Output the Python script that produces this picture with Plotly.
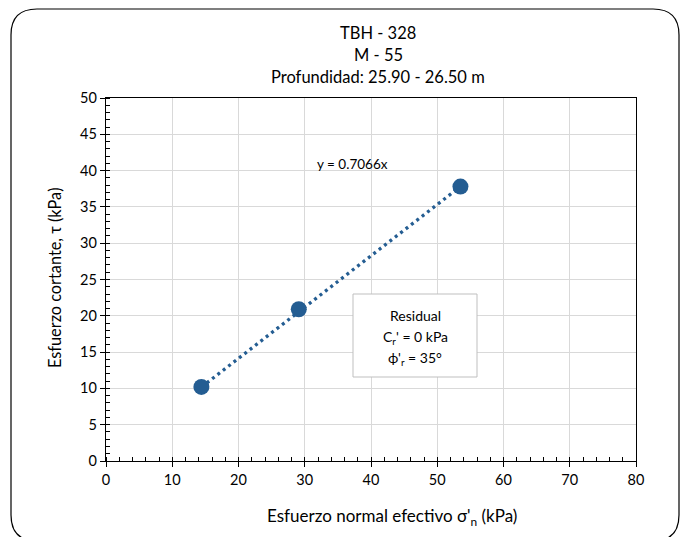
import plotly.graph_objects as go

# ─── Datos ───────────────────────────────────────────────
sigma_n = [14.4, 29.1, 53.5]      # esfuerzo normal efectivo (kPa)
tau = [10.2, 20.9, 37.8]          # esfuerzo cortante (kPa)
pendiente = 0.7066                # y = 0.7066x
titulo = ["TBH - 328", "M - 55", "Profundidad: 25.90 - 26.50 m"]
x_ticks = [0, 10, 20, 30, 40, 50, 60, 70, 80]
y_ticks = [0, 5, 10, 15, 20, 25, 30, 35, 40, 45, 50]

AZUL = '#245D92'
FUENTE = 'Lato'
W, H = 681, 537
L, R, T, B = 106, 45, 98, 76


def px(x):   # pixel -> paper x
    return (x - L) / (W - L - R)


def py(y):   # pixel -> paper y
    return (H - B - y) / (H - T - B)


def texto(t, x, y, size, **kw):
    fig.add_annotation(text=t, xref='paper', yref='paper', x=px(x), y=py(y),
                       xanchor='center', yanchor='middle', showarrow=False,
                       font=dict(size=size, family=FUENTE, color='black'), **kw)


fig = go.Figure()

# línea de tendencia punteada
tx = [min(sigma_n), max(sigma_n)]
fig.add_trace(go.Scatter(
    x=tx, y=[pendiente * v for v in tx], mode='lines',
    line=dict(color=AZUL, width=3.3, dash='3px,3.8px'), hoverinfo='skip'
))
fig.add_trace(go.Scatter(
    x=sigma_n, y=tau, mode='markers',
    marker=dict(color=AZUL, size=16, line_width=0)
))

fig.update_layout(
    width=W, height=H,
    paper_bgcolor='white', plot_bgcolor='white',
    margin=dict(l=L, r=R, t=T, b=B),
    showlegend=False,
    font=dict(family=FUENTE, size=13, color='#000'),
    xaxis=dict(range=[0, 80], tickvals=x_ticks, showgrid=True, gridcolor='#D9D9D9',
               zeroline=False, showline=True, linecolor='black', linewidth=1.3, mirror=True,
               ticks='outside', ticklen=5, tickcolor='black',
               minor=dict(ticks='inside', dtick=2, ticklen=4, tickcolor='black', showgrid=False),
               tickfont=dict(size=14.5, family=FUENTE)),
    yaxis=dict(range=[0, 50], tickvals=y_ticks, showgrid=True, gridcolor='#D9D9D9',
               zeroline=False, showline=True, linecolor='black', linewidth=1.3, mirror=True,
               ticks='outside', ticklen=5, tickcolor='black',
               minor=dict(ticks='inside', dtick=1, ticklen=4, tickcolor='black', showgrid=False),
               tickfont=dict(size=14.5, family=FUENTE)),
)

# títulos (tres líneas)
for t, yy in zip(titulo, [33, 55, 77]):
    texto(t, 378, yy, 16.5)

# títulos de ejes
texto("Esfuerzo normal efectivo σ'<sub>n</sub> (kPa)", 392, 517, 17)
texto("Esfuerzo cortante, τ (kPa)", 54, 278, 16.3, textangle=-90)

# ecuación
texto("y = 0.7066x", 352, 164, 13.5)

# cuadro de parámetros
fig.add_shape(type='rect', xref='paper', yref='paper', x0=px(353), x1=px(477),
              y0=py(294), y1=py(377), line=dict(color='#BFBFBF', width=1), fillcolor='white',
              layer='above')
for t, yy in [("Residual", 314), ("C<sub>r</sub>' = 0 kPa", 335), ("ϕ'<sub>r</sub> = 35°", 356)]:
    fig.add_annotation(text=t, xref='paper', yref='paper', x=px(415), y=py(yy - 9),
                       xanchor='center', yanchor='top', showarrow=False,
                       font=dict(size=14, family=FUENTE, color='black'))

# borde redondeado del área del gráfico
x0, x1, y0, y1, r = 11, 679, 9, 541, 26
rx = r / (W - L - R)
ry = r / (H - T - B)
a, b, c, d = px(x0), px(x1), py(y0), py(y1)
path = (f"M {a+rx},{c} L {b-rx},{c} Q {b},{c} {b},{c-ry} L {b},{d+ry} Q {b},{d} {b-rx},{d} "
        f"L {a+rx},{d} Q {a},{d} {a},{d+ry} L {a},{c-ry} Q {a},{c} {a+rx},{c} Z")
fig.add_shape(type='path', path=path, xref='paper', yref='paper',
              line=dict(color='black', width=1.2), layer='below')

fig.write_html("out.html", config={'displayModeBar': False},
               post_script="document.body.style.margin='0';")
